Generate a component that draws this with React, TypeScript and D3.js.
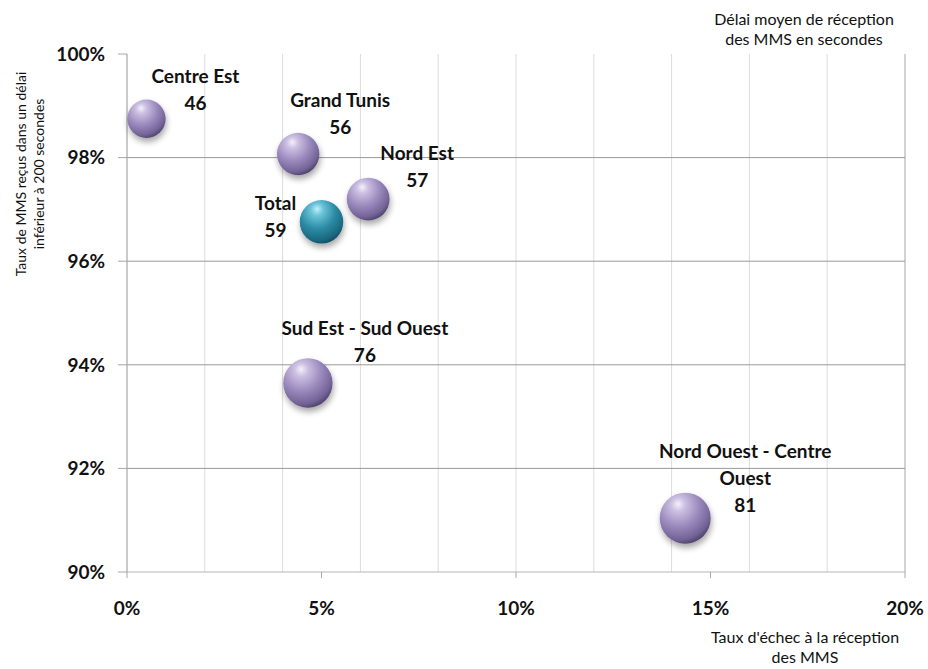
import React from 'react';
import * as d3 from 'd3';

// Regions (bubble labels)
const regions = [
  'Centre Est',
  'Grand Tunis',
  'Nord Est',
  'Total',
  'Sud Est - Sud Ouest',
  'Nord Ouest - Centre Ouest',
];
// Taux d'échec à la réception des MMS (%)
const failureRate = [0.5, 4.4, 6.2, 5.0, 4.65, 14.35];
// Taux de MMS reçus dans un délai inférieur à 200 secondes (%)
const receivedRate = [98.75, 98.07, 97.2, 96.76, 93.65, 91.04];
// Délai moyen de réception des MMS en secondes (bubble size)
const meanDelay = [46, 56, 57, 59, 76, 81];

const xTicks = [0, 5, 10, 15, 20];
const xGrid = [0, 2, 4, 6, 8, 10, 12, 14, 16, 18, 20];
const yTicks = [90, 92, 94, 96, 98, 100];

const W = 928;
const H = 669;
const FONT = "Lato, 'Open Sans', sans-serif";

// label placement relative to bubble centre (dx to label centre, dy to last baseline)
const labelOffset: Record<string, [number, number]> = {
  'Centre Est': [49, -9],
  'Grand Tunis': [42, -20],
  'Nord Est': [49, -12],
  Total: [-46, 15],
  'Sud Est - Sud Ouest': [57, -21],
  'Nord Ouest - Centre Ouest': [60, -6],
};

function wrap(name: string): string[] {
  if (name.length <= 20) return [name];
  const i = name.lastIndexOf(' ');
  return [name.slice(0, i), name.slice(i + 1)];
}

export default function App() {
  const x = d3.scaleLinear().domain([0, 20]).range([127, 905]);
  const y = d3.scaleLinear().domain([90, 100]).range([572, 54]);
  const r = d3.scaleSqrt().domain([0, 81]).range([0, 25.5]);

  const points = regions.map((name, i) => ({
    name,
    x: failureRate[i],
    y: receivedRate[i],
    delay: meanDelay[i],
  }));
  // draw larger ones first
  const drawOrder = [...points].sort((a, b) => b.delay - a.delay);

  return (
    <svg
      width={W}
      height={H}
      style={{ position: 'absolute', left: 0, top: 0, background: '#fff' }}
      fontFamily={FONT}
    >
      <defs>
        <radialGradient id="purpleBall" cx="0.38" cy="0.3" r="0.78" fx="0.36" fy="0.22">
          <stop offset="0%" stopColor="#f4f0fa" />
          <stop offset="18%" stopColor="#cbbfe1" />
          <stop offset="52%" stopColor="#9a89bd" />
          <stop offset="82%" stopColor="#726296" />
          <stop offset="100%" stopColor="#3e3355" />
        </radialGradient>
        <radialGradient id="tealBall" cx="0.4" cy="0.3" r="0.78" fx="0.4" fy="0.2">
          <stop offset="0%" stopColor="#bff1f8" />
          <stop offset="18%" stopColor="#6cc5d9" />
          <stop offset="52%" stopColor="#2d8ca6" />
          <stop offset="82%" stopColor="#1b6880" />
          <stop offset="100%" stopColor="#0c3f50" />
        </radialGradient>
        <filter id="ballShadow" x="-50%" y="-50%" width="200%" height="200%">
          <feGaussianBlur in="SourceAlpha" stdDeviation="3" />
          <feOffset dx="1" dy="4" result="blur" />
          <feComponentTransfer>
            <feFuncA type="linear" slope="0.35" />
          </feComponentTransfer>
          <feMerge>
            <feMergeNode />
            <feMergeNode in="SourceGraphic" />
          </feMerge>
        </filter>
      </defs>

      {/* vertical gridlines */}
      {xGrid.map((v) => (
        <line
          key={'vx' + v}
          x1={x(v)}
          x2={x(v)}
          y1={y(100)}
          y2={y(90)}
          stroke={v === 20 ? '#a6a6a6' : '#dcdcdc'}
          strokeWidth={1}
        />
      ))}
      {/* horizontal gridlines */}
      {yTicks
        .filter((v) => v !== 100)
        .map((v) => (
          <line
            key={'hy' + v}
            x1={x(0)}
            x2={x(20)}
            y1={y(v)}
            y2={y(v)}
            stroke={v === 90 ? '#b5b5b5' : '#999'}
            strokeWidth={1}
          />
        ))}
      {/* left axis */}
      <line x1={x(0)} x2={x(0)} y1={y(100)} y2={y(90)} stroke="#a6a6a6" />
      {yTicks.map((v) => (
        <line key={'ty' + v} x1={x(0) - 9} x2={x(0)} y1={y(v)} y2={y(v)} stroke="#a6a6a6" />
      ))}
      {xTicks.map((v) => (
        <line key={'tx' + v} x1={x(v)} x2={x(v)} y1={y(90)} y2={y(90) + 6} stroke="#a6a6a6" />
      ))}

      {/* tick labels */}
      {yTicks.map((v) => (
        <text
          key={'ly' + v}
          x={105}
          y={y(v)}
          dy="0.36em"
          textAnchor="end"
          fontSize={19}
          fontWeight="bold"
          fill="#111"
        >
          {v}%
        </text>
      ))}
      {xTicks.map((v) => (
        <text
          key={'lx' + v}
          x={x(v)}
          y={615}
          textAnchor="middle"
          fontSize={19}
          fontWeight="bold"
          fill="#111"
        >
          {v}%
        </text>
      ))}

      {/* bubbles */}
      {drawOrder.map((d) => (
        <circle
          key={d.name}
          cx={x(d.x)}
          cy={y(d.y)}
          r={r(d.delay)}
          fill={d.name === 'Total' ? 'url(#tealBall)' : 'url(#purpleBall)'}
          filter="url(#ballShadow)"
        />
      ))}

      {/* data labels */}
      {points.map((d) => {
        const [dx, dy] = labelOffset[d.name];
        const lines = [...wrap(d.name), String(d.delay)];
        const cx = x(d.x) + dx;
        const last = y(d.y) + dy;
        return (
          <text
            key={'lab' + d.name}
            textAnchor="middle"
            fontSize={19}
            fontWeight="bold"
            fill="#111"
          >
            {lines.map((t, j) => (
              <tspan key={j} x={cx} y={last - (lines.length - 1 - j) * 27}>
                {t}
              </tspan>
            ))}
          </text>
        );
      })}

      {/* axis titles */}
      <text textAnchor="middle" fontSize={16} fill="#111">
        <tspan x={804} y={25}>Délai moyen de réception</tspan>
        <tspan x={804} y={45}>des MMS en secondes</tspan>
      </text>
      <text textAnchor="middle" fontSize={16} fill="#111">
        <tspan x={805} y={643}>Taux d'échec à la réception</tspan>
        <tspan x={805} y={663}>des MMS</tspan>
      </text>
      <text textAnchor="middle" fontSize={14} fill="#111" transform="translate(0,174) rotate(-90)">
        <tspan x={0} y={26}>Taux de MMS reçus dans un délai</tspan>
        <tspan x={0} y={44}>inférieur à 200 secondes</tspan>
      </text>
    </svg>
  );
}
